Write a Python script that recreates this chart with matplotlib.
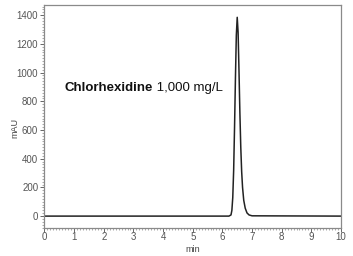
import matplotlib
matplotlib.use("Agg")
import matplotlib.pyplot as plt
from matplotlib.ticker import MultipleLocator

plt.rcParams['font.family'] = ['Liberation Sans', 'DejaVu Sans']

# chromatogram (min, mAU)
time_min = [0.0, 6.22, 6.29, 6.32, 6.35, 6.38, 6.41, 6.44, 6.47, 6.50, 6.53,
            6.56, 6.59, 6.62, 6.65, 6.68, 6.72, 6.77, 6.83, 6.90, 7.00, 10.0]
signal_mau = [0, 0, 8, 40, 130, 320, 620, 960, 1260, 1385, 1280,
              1010, 720, 480, 310, 200, 110, 55, 22, 8, 2, 0]

x_ticks = list(range(0, 11))
y_ticks = [0, 200, 400, 600, 800, 1000, 1200, 1400]

fig = plt.figure(figsize=(3.53, 2.56), dpi=100)
ax = fig.add_axes([0.126, 0.111, 0.840, 0.869])

ax.plot(time_min, signal_mau, color='#222222', lw=1.1)

ax.set_xlim(0, 10)
ax.set_ylim(-80, 1470)
ax.set_xticks(x_ticks)
ax.set_yticks(y_ticks)
ax.xaxis.set_minor_locator(MultipleLocator(0.1))
ax.yaxis.set_minor_locator(MultipleLocator(20))

for s in ax.spines.values():
    s.set_color('#8a8a8a')
    s.set_linewidth(0.9)
ax.tick_params(which='major', length=3, width=0.7, color='#666666',
               labelsize=7, labelcolor='#555555', pad=1.5)
ax.tick_params(axis='x', which='major', pad=0.5)
ax.tick_params(which='minor', length=1.5, width=0.5, color='#888888')

ax.set_xlabel('min', fontsize=6.5, color='#444444', va='center')
ax.xaxis.set_label_coords(0.50, -0.098)
ax.set_ylabel('mAU', fontsize=6.5, color='#444444', va='center')
ax.yaxis.set_label_coords(-0.10, 0.447)

name = ax.text(0.69, 890, 'Chlorhexidine', fontsize=9.5, fontweight='bold',
               color='#111111', va='center', ha='left')
ax.annotate(' 1,000 mg/L', xy=(1, 0.5), xycoords=name, fontsize=9.5,
            color='#111111', va='center', ha='left')

fig.savefig('out.png', dpi=100)
